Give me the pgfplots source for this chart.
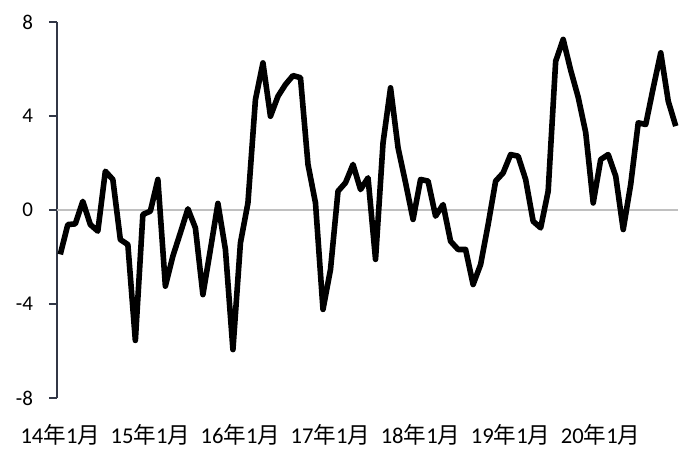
\documentclass[border=0pt]{standalone}
\usepackage{fontspec}
\setmainfont{Carlito}
\newfontfamily\cjk{Noto Sans CJK SC}
\usepackage{pgfplots}
\pgfplotsset{compat=1.18}
\definecolor{axiscol}{RGB}{50,55,70}
\definecolor{zerocol}{RGB}{192,192,192}
\newcommand{\ym}[1]{#1{\cjk 年}1{\cjk 月}}
\begin{document}
\begin{tikzpicture}
\begin{axis}[
  at={(0,0)}, anchor=south west,
  scale only axis, width=310.5pt, height=188pt,
  xmin=-0.44, xmax=82.3, ymin=-8, ymax=8,
  clip=false,
  axis x line=bottom, axis y line=left,
  x axis line style={draw=none},
  y axis line style={axiscol, line width=1pt, -},
  ytick={-8,-4,0,4,8},
  y tick style={axiscol, line width=1pt},
  tick align=outside, major tick length=4pt,
  xtick={0,12,24,36,48,60,72},
  xticklabels={\ym{14},\ym{15},\ym{16},\ym{17},\ym{18},\ym{19},\ym{20}},
  x tick style={draw=none},
  /pgf/number format/assume math mode=true,
  yticklabel style={font=\fontsize{10.5}{12}\selectfont, xshift=-4.5pt},
  xticklabel style={font=\fontsize{11.3}{13}\selectfont, inner ysep=1pt, yshift=-8pt},
  extra y ticks={0}, extra y tick labels={},
  extra y tick style={grid=major, major grid style={zerocol, line width=1pt}, major tick length=0pt},
]
\addplot[black, line width=2.8pt, line join=round] coordinates {
(0,-1.89) (1,-0.62) (2,-0.59) (3,0.37) (4,-0.62) (5,-0.90) (6,1.65) (7,1.30) (8,-1.26) (9,-1.47)
(10,-5.55) (11,-0.19) (12,-0.05) (13,1.30) (14,-3.24) (15,-1.96) (16,-0.97) (17,0.05) (18,-0.76) (19,-3.60)
(20,-1.68) (21,0.28) (22,-1.68) (23,-5.94) (24,-1.40) (25,0.30) (26,4.70) (27,6.26) (28,3.99) (29,4.84)
(30,5.34) (31,5.72) (32,5.63) (33,1.94) (34,0.30) (35,-4.23) (36,-2.53) (37,0.80) (38,1.16) (39,1.94)
(40,0.87) (41,1.37) (42,-2.10) (43,2.86) (44,5.20) (45,2.65) (46,1.16) (47,-0.40) (48,1.30) (49,1.23)
(50,-0.26) (51,0.23) (52,-1.33) (53,-1.68) (54,-1.68) (55,-3.17) (56,-2.32) (57,-0.62) (58,1.23) (59,1.58)
(60,2.36) (61,2.29) (62,1.30) (63,-0.48) (64,-0.76) (65,0.80) (66,6.33) (67,7.26) (68,5.95) (69,4.80)
(70,3.30) (71,0.30) (72,2.15) (73,2.36) (74,1.44) (75,-0.83) (76,1.10) (77,3.71) (78,3.64) (79,5.20)
(80,6.69) (81,4.63) (82,3.57)
};
\end{axis}
\pgfresetboundingbox
\path (-28.5pt,-25.5pt) rectangle (311pt,199pt);
\end{tikzpicture}
\end{document}
